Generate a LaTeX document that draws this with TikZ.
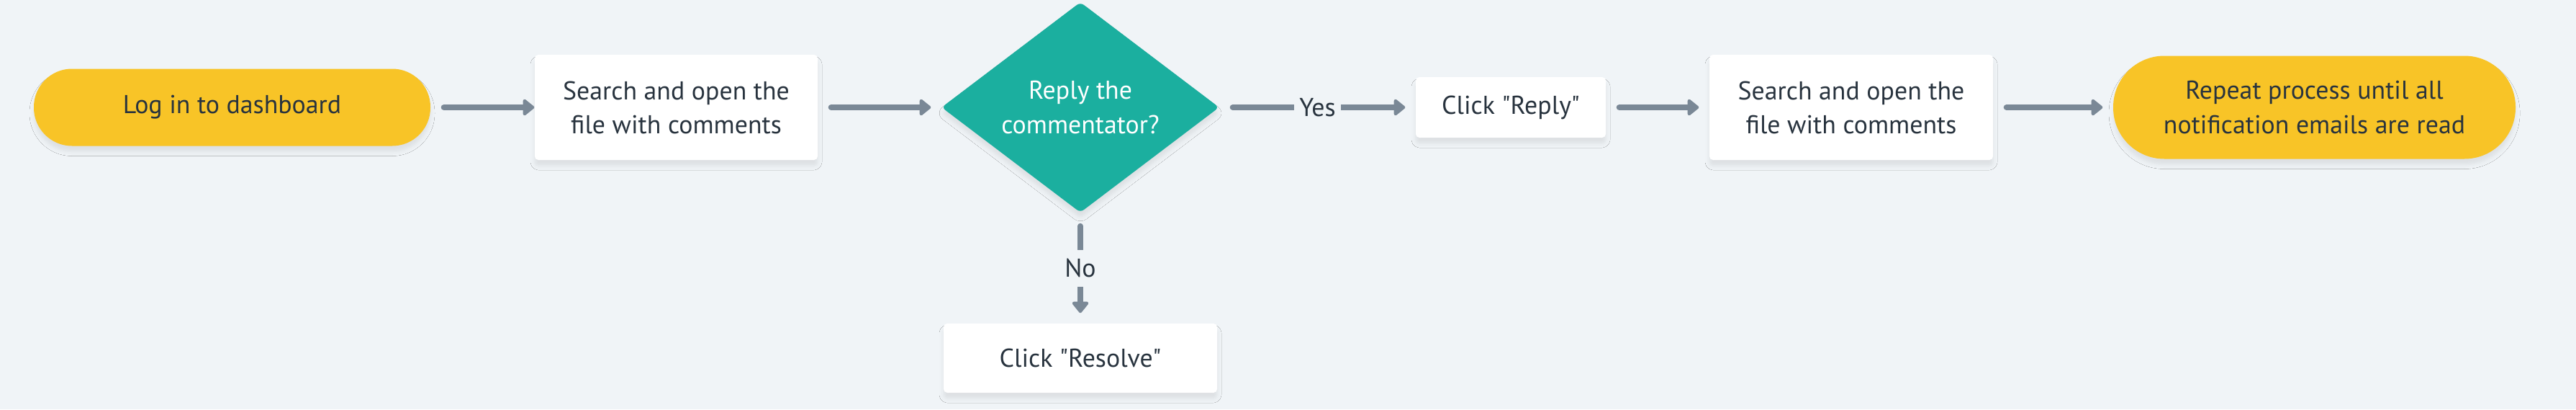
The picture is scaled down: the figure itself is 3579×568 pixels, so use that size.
\documentclass[tikz,border=0pt]{standalone}
\usepackage{fontspec}
\newfontfamily\chartfont{PT Sans}
\usetikzlibrary{shapes.geometric, arrows.meta, shadows.blur}

\definecolor{bgcol}{HTML}{F0F4F7}
\definecolor{termcol}{HTML}{F8C427}
\definecolor{deccol}{HTML}{1BAF9F}
\definecolor{arrowcol}{HTML}{7A8896}
\definecolor{textcol}{HTML}{28333E}

\tikzset{
  softshadow/.style={blur shadow={shadow xshift=0pt, shadow yshift=-0.8mm, shadow blur radius=0.6mm, shadow opacity=8}},
  terminal/.style={fill=termcol, text=textcol, align=center, softshadow},
  process/.style={fill=white, text=textcol, rounded corners=0.5mm, align=center, softshadow},
  decision/.style={diamond, fill=deccol, text=white, align=center, inner sep=0pt, rounded corners=0.6mm, softshadow},
  flow/.style={draw=arrowcol, line width=0.8mm, line cap=round, -{Triangle[length=1.7mm, width=2.6mm, round]}, shorten <=1.8mm, shorten >=1.4mm},
  answer/.style={fill=bgcol, text=textcol, inner xsep=0.7mm, inner ysep=1.25mm},
}

\begin{document}
\begin{tikzpicture}[x=0.1mm, y=-0.1mm, font=\chartfont\fontsize{10.2pt}{13.4pt}\selectfont]
  \useasboundingbox (0,0) rectangle (3579,568);
  \fill[bgcol] (0,0) rectangle (3579,568);

  % main row
  \node[terminal, minimum width=55.1mm, minimum height=10.7mm, rounded corners=5.3mm] (login) at (322.5,149) {Log in to dashboard};
  \node[process, minimum width=39.3mm, minimum height=14.6mm] (search1) at (939.5,149) {Search and open the\\file with comments};
  \node[decision, minimum width=38.6mm, minimum height=28.7mm] (decide) at (1501,149) {Reply the\\commentator?};
  \node[process, minimum width=26.4mm, minimum height=8.4mm] (reply) at (2099,149) {Click "Reply"};
  \node[process, minimum width=39.4mm, minimum height=14.6mm] (search2) at (2572,149) {Search and open the\\file with comments};
  \node[terminal, minimum width=55.9mm, minimum height=14.3mm, rounded corners=7.1mm] (repeat) at (3215.5,149) {Repeat process until all\\notification emails are read};
  % branch
  \node[process, minimum width=38mm, minimum height=9.6mm] (resolve) at (1501,497) {Click "Resolve"};

  \draw[flow, shorten >=0pt] (login) -- (search1);
  \draw[flow] (search1) -- (decide);
  \draw[flow] (decide) -- node[answer] {Yes} (reply);
  \draw[flow] (reply) -- (search2);
  \draw[flow] (search2) -- (repeat);
  \draw[flow] (decide) -- node[answer] {No} (resolve);
\end{tikzpicture}
\end{document}
